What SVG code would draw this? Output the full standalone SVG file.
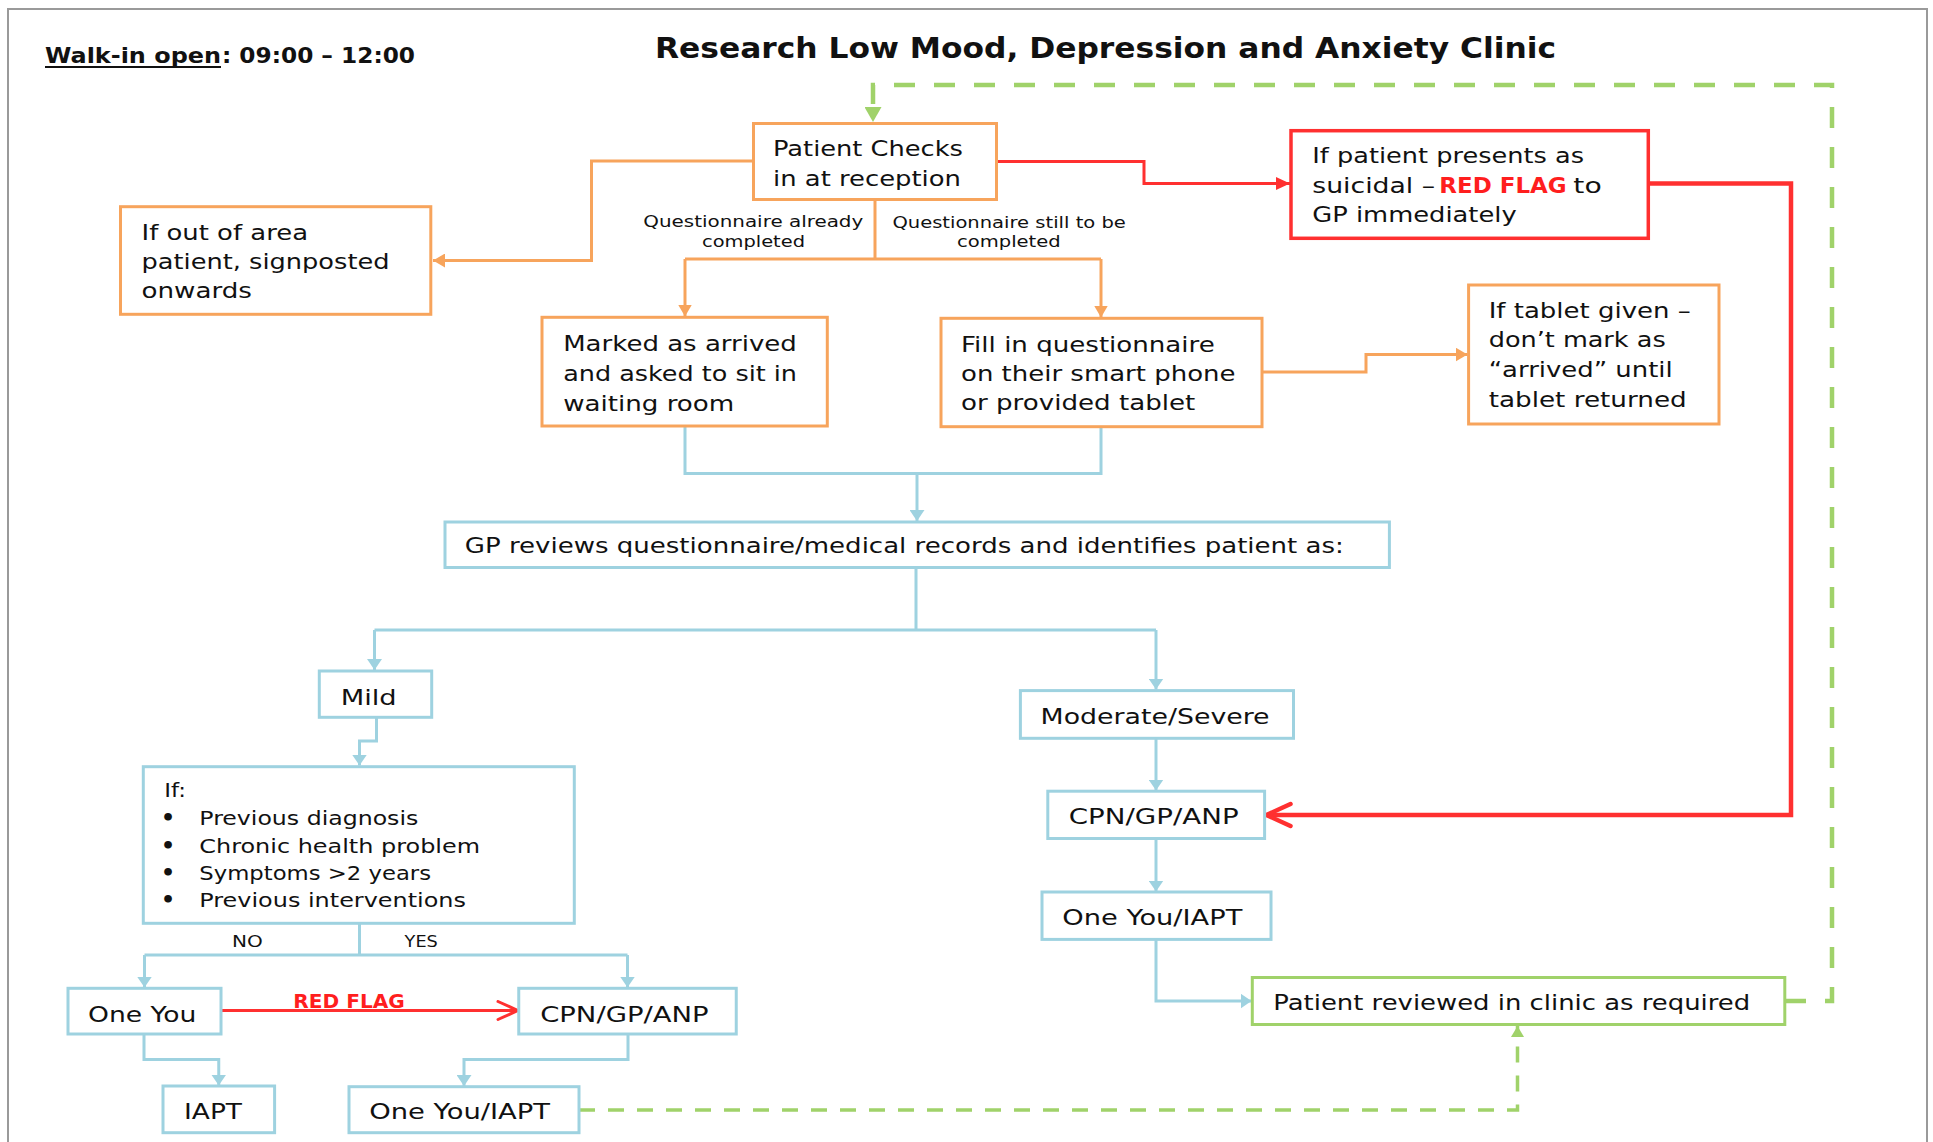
<svg xmlns="http://www.w3.org/2000/svg" width="1933" height="1142" viewBox="0 0 1933 1142">
<style>
.t{font-family:"DejaVu Sans","Liberation Sans",sans-serif;font-size:22px;fill:#111}
.b{font-weight:bold}
.s{font-size:15.5px}
.l{font-size:20px}
.ttl{font-size:29px}
.wk{font-size:22px}
.rfs{font-size:20px}
.rf{fill:#FF1E1E;font-weight:bold}
.bo{fill:#fff;stroke:#F7A45C;stroke-width:3}
.bb{fill:#fff;stroke:#9ED2E0;stroke-width:3}
.br{fill:#fff;stroke:#FF3030;stroke-width:3.5}
.bg{fill:#fff;stroke:#A0D26A;stroke-width:3}
.co{fill:none;stroke:#F7A45C;stroke-width:3}
.cb{fill:none;stroke:#9ED2E0;stroke-width:3}
.cr{fill:none;stroke:#FF3030;stroke-width:3}
.crt{fill:none;stroke:#FF3030;stroke-width:4.5}
.cg{fill:none;stroke:#A0D26A;stroke-width:4.5;stroke-dasharray:21 19}
.cg2{fill:none;stroke:#A0D26A;stroke-width:3.5;stroke-dasharray:16 13}
</style>
<defs>
<marker id="ab" markerUnits="userSpaceOnUse" viewBox="0 0 11 15" markerWidth="11" markerHeight="15" refX="11" refY="7.5" orient="auto"><path d="M0,0 L11,7.5 L0,15 z" fill="#9ED2E0"/></marker>
<marker id="ao" markerUnits="userSpaceOnUse" viewBox="0 0 12 14" markerWidth="12" markerHeight="14" refX="12" refY="7" orient="auto"><path d="M0,0 L12,7 L0,14 z" fill="#F7A45C"/></marker>
<marker id="ag" markerUnits="userSpaceOnUse" viewBox="0 0 15 17" markerWidth="15" markerHeight="17" refX="15" refY="8.5" orient="auto"><path d="M0,0 L15,8.5 L0,17 z" fill="#A0D26A"/></marker>
<marker id="ag2" markerUnits="userSpaceOnUse" viewBox="0 0 11 13" markerWidth="11" markerHeight="13" refX="11" refY="6.5" orient="auto"><path d="M0,0 L11,6.5 L0,13 z" fill="#A0D26A"/></marker>
<marker id="ar" markerUnits="userSpaceOnUse" viewBox="0 0 14 13" markerWidth="14" markerHeight="13" refX="14" refY="6.5" orient="auto"><path d="M0,0 L14,6.5 L0,13 z" fill="#FF3030"/></marker>
<marker id="cv" markerUnits="userSpaceOnUse" viewBox="0 0 30 28" markerWidth="30" markerHeight="28" refX="27" refY="14" orient="auto"><path d="M3,3 L27,14 L3,25" fill="none" stroke="#FF3030" stroke-width="4.5" stroke-linecap="round" stroke-linejoin="round"/></marker>
<marker id="cv2" markerUnits="userSpaceOnUse" viewBox="0 0 24 22" markerWidth="24" markerHeight="22" refX="22" refY="11" orient="auto"><path d="M2,2 L22,11 L2,20" fill="none" stroke="#FF3030" stroke-width="3" stroke-linecap="round" stroke-linejoin="round"/></marker>
</defs>
<rect width="1933" height="1142" fill="#fff"/>
<path d="M8,1142 V9 H1927 V1142" fill="none" stroke="#9a9a9a" stroke-width="2"/>

<g id="header">
<text class="t b wk" x="45" y="63.3" textLength="176" lengthAdjust="spacingAndGlyphs">Walk-in open</text>
<rect x="45" y="66" width="176" height="2" fill="#111"/>
<text class="t b wk" x="222" y="63.3" textLength="193" lengthAdjust="spacingAndGlyphs">: 09:00 – 12:00</text>
<text class="t b ttl" x="655" y="57.8" textLength="901" lengthAdjust="spacingAndGlyphs">Research Low Mood, Depression and Anxiety Clinic</text>
</g>

<g id="connectors">
<path class="co" d="M753,161 H591.5 V260.5 H433" marker-end="url(#ao)"/>
<path class="co" d="M875,199 V259 M685,259 H1101"/>
<path class="co" d="M685,259 V316.5" marker-end="url(#ao)"/>
<path class="co" d="M1101,259 V317.5" marker-end="url(#ao)"/>
<path class="co" d="M1262,372 H1366 V354.5 H1467.5" marker-end="url(#ao)"/>
<path class="cr" d="M997,161.5 H1144 V183.5 H1290" marker-end="url(#ar)"/>
<path class="crt" d="M1648,183.5 H1791 V815 H1266.5" marker-end="url(#cv)"/>
<path class="cr" d="M221,1010.5 H518" marker-end="url(#cv2)"/>
<path class="cb" d="M685,426 V473.5 H1101 V427"/>
<path class="cb" d="M917,473.5 V521" marker-end="url(#ab)"/>
<path class="cb" d="M916,568 V630 M374.5,630 H1156"/>
<path class="cb" d="M374.5,630 V670" marker-end="url(#ab)"/>
<path class="cb" d="M1156,630 V689.5" marker-end="url(#ab)"/>
<path class="cb" d="M376.5,717.5 V741 H359.5 V765.5" marker-end="url(#ab)"/>
<path class="cb" d="M359.5,923 V955 M144.5,955 H627.5"/>
<path class="cb" d="M144.5,955 V987.5" marker-end="url(#ab)"/>
<path class="cb" d="M627.5,955 V987.5" marker-end="url(#ab)"/>
<path class="cb" d="M144,1034 V1059.5 H218.75 V1085.5" marker-end="url(#ab)"/>
<path class="cb" d="M628,1034 V1059.5 H464 V1086" marker-end="url(#ab)"/>
<path class="cb" d="M1156,738 V790.5" marker-end="url(#ab)"/>
<path class="cb" d="M1156,838.5 V891.5" marker-end="url(#ab)"/>
<path class="cb" d="M1156,939.5 V1001 H1251.5" marker-end="url(#ab)"/>
<path class="cg" d="M1785,1001 H1832 V85 H873 V122" marker-end="url(#ag)"/>
<path class="cg2" d="M579,1110 H1517.5 V1026" marker-end="url(#ag2)"/>
<text class="t rf rfs" x="293.3" y="1007.7" textLength="111.6" lengthAdjust="spacingAndGlyphs">RED FLAG</text>
<text class="t s" x="643.3" y="227.3" textLength="220" lengthAdjust="spacingAndGlyphs">Questionnaire  already</text>
<text class="t s" x="702" y="246.7" textLength="103" lengthAdjust="spacingAndGlyphs">completed</text>
<text class="t s" x="892.4" y="227.5" textLength="233.5" lengthAdjust="spacingAndGlyphs">Questionnaire still to be</text>
<text class="t s" x="957" y="247" textLength="103.7" lengthAdjust="spacingAndGlyphs">completed</text>
<text class="t s" x="232" y="946.7" textLength="30.8" lengthAdjust="spacingAndGlyphs">NO</text>
<text class="t s" x="404.6" y="946.7" textLength="33.2" lengthAdjust="spacingAndGlyphs">YES</text>
</g>

<g id="patient-checks">
<rect class="bo" x="753.5" y="123.5" width="243" height="76"/>
<text class="t" x="773" y="155.7" textLength="190" lengthAdjust="spacingAndGlyphs">Patient Checks</text>
<text class="t" x="773" y="186" textLength="188" lengthAdjust="spacingAndGlyphs">in at reception</text>
</g>

<g id="out-of-area">
<rect class="bo" x="120.5" y="206.7" width="310.3" height="107.6"/>
<text class="t" x="141.5" y="240" textLength="166.5" lengthAdjust="spacingAndGlyphs">If out of area</text>
<text class="t" x="141.5" y="268.5" textLength="248" lengthAdjust="spacingAndGlyphs">patient, signposted</text>
<text class="t" x="141.5" y="298" textLength="110.5" lengthAdjust="spacingAndGlyphs">onwards</text>
</g>

<g id="suicidal">
<rect class="br" x="1291" y="130.7" width="357.3" height="107.6"/>
<text class="t" x="1312.3" y="163.3" textLength="271.7" lengthAdjust="spacingAndGlyphs">If patient presents as</text>
<text class="t" x="1312.3" y="192.5" textLength="122.7" lengthAdjust="spacingAndGlyphs">suicidal –</text>
<text class="t rf" x="1439.3" y="192.5" textLength="127.4" lengthAdjust="spacingAndGlyphs">RED FLAG</text>
<text class="t" x="1573.3" y="192.5" textLength="28.4" lengthAdjust="spacingAndGlyphs">to</text>
<text class="t" x="1312.3" y="221.5" textLength="204.4" lengthAdjust="spacingAndGlyphs">GP immediately</text>
</g>

<g id="marked-arrived">
<rect class="bo" x="542" y="317.3" width="285.3" height="108.7"/>
<text class="t" x="563.2" y="350.7" textLength="233.7" lengthAdjust="spacingAndGlyphs">Marked as arrived</text>
<text class="t" x="563.2" y="380.7" textLength="233.8" lengthAdjust="spacingAndGlyphs">and asked to sit in</text>
<text class="t" x="563.2" y="410.7" textLength="171" lengthAdjust="spacingAndGlyphs">waiting room</text>
</g>

<g id="fill-questionnaire">
<rect class="bo" x="941" y="318.3" width="321" height="108.4"/>
<text class="t" x="961" y="351.7" textLength="253.8" lengthAdjust="spacingAndGlyphs">Fill in questionnaire</text>
<text class="t" x="961" y="381" textLength="274.5" lengthAdjust="spacingAndGlyphs">on their smart phone</text>
<text class="t" x="961" y="410" textLength="234.3" lengthAdjust="spacingAndGlyphs">or provided tablet</text>
</g>

<g id="tablet">
<rect class="bo" x="1468.6" y="285" width="250.4" height="139"/>
<text class="t" x="1488.7" y="318.3" textLength="202" lengthAdjust="spacingAndGlyphs">If tablet given –</text>
<text class="t" x="1488.7" y="346.7" textLength="177" lengthAdjust="spacingAndGlyphs">don’t mark as</text>
<text class="t" x="1488.7" y="377.3" textLength="184" lengthAdjust="spacingAndGlyphs">“arrived” until</text>
<text class="t" x="1488.7" y="407.3" textLength="198" lengthAdjust="spacingAndGlyphs">tablet returned</text>
</g>

<g id="gp-reviews">
<rect class="bb" x="445" y="522" width="944.4" height="45.5"/>
<text class="t" x="464.8" y="552.7" textLength="879" lengthAdjust="spacingAndGlyphs">GP reviews questionnaire/medical records and identifies patient as:</text>
</g>

<g id="mild">
<rect class="bb" x="319.3" y="671" width="112.4" height="46.3"/>
<text class="t" x="340.7" y="705" textLength="56" lengthAdjust="spacingAndGlyphs">Mild</text>
</g>

<g id="if-criteria">
<rect class="bb" x="143.3" y="766.7" width="431" height="156.6"/>
<text class="t l" x="164.3" y="796.7" textLength="21.7" lengthAdjust="spacingAndGlyphs">If:</text>
<text class="t b" x="161" y="825">•</text>
<text class="t b" x="161" y="852.7">•</text>
<text class="t b" x="161" y="880">•</text>
<text class="t b" x="161" y="906.7">•</text>
<text class="t l" x="199.3" y="825" textLength="219" lengthAdjust="spacingAndGlyphs">Previous diagnosis</text>
<text class="t l" x="199.3" y="852.7" textLength="280.7" lengthAdjust="spacingAndGlyphs">Chronic health problem</text>
<text class="t l" x="199.3" y="880" textLength="231.7" lengthAdjust="spacingAndGlyphs">Symptoms &gt;2 years</text>
<text class="t l" x="199.3" y="906.7" textLength="266.7" lengthAdjust="spacingAndGlyphs">Previous interventions</text>
</g>

<g id="one-you">
<rect class="bb" x="68" y="988.3" width="153" height="45.7"/>
<text class="t" x="88" y="1021.7" textLength="108.4" lengthAdjust="spacingAndGlyphs">One You</text>
</g>

<g id="cpn-left">
<rect class="bb" x="518.75" y="988.3" width="217.5" height="45.7"/>
<text class="t" x="540.2" y="1021.7" textLength="168.3" lengthAdjust="spacingAndGlyphs">CPN/GP/ANP</text>
</g>

<g id="iapt">
<rect class="bb" x="163" y="1086" width="111.6" height="46.7"/>
<text class="t" x="184" y="1119.3" textLength="58" lengthAdjust="spacingAndGlyphs">IAPT</text>
</g>

<g id="one-you-iapt-left">
<rect class="bb" x="349" y="1086.7" width="230" height="46"/>
<text class="t" x="369.2" y="1119.3" textLength="180.8" lengthAdjust="spacingAndGlyphs">One You/IAPT</text>
</g>

<g id="moderate-severe">
<rect class="bb" x="1020.4" y="690.6" width="273.1" height="47.7"/>
<text class="t" x="1040.6" y="724.4" textLength="229" lengthAdjust="spacingAndGlyphs">Moderate/Severe</text>
</g>

<g id="cpn-right">
<rect class="bb" x="1047.8" y="791.2" width="216.8" height="47.3"/>
<text class="t" x="1068.8" y="824" textLength="169.8" lengthAdjust="spacingAndGlyphs">CPN/GP/ANP</text>
</g>

<g id="one-you-iapt-right">
<rect class="bb" x="1042" y="892" width="229" height="47.4"/>
<text class="t" x="1062.3" y="925" textLength="180" lengthAdjust="spacingAndGlyphs">One You/IAPT</text>
</g>

<g id="patient-reviewed">
<rect class="bg" x="1252.3" y="977.5" width="532.5" height="47"/>
<text class="t" x="1273.3" y="1009.6" textLength="476.9" lengthAdjust="spacingAndGlyphs">Patient reviewed in clinic as required</text>
</g>
</svg>
